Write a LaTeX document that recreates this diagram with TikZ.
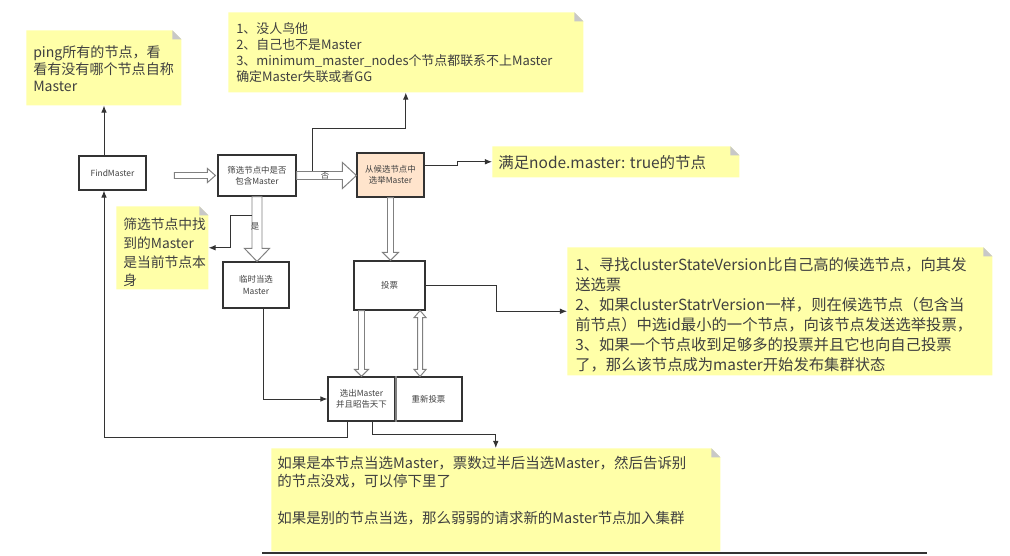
\documentclass[tikz,border=0pt]{standalone}
\usepackage{fontspec}
\setmainfont{Noto Sans CJK SC}
\usetikzlibrary{arrows.meta,calc}

\newcommand{\px}{0.025cm}
\definecolor{notebg}{RGB}{255,255,168}
\definecolor{notefold}{RGB}{200,200,200}
\definecolor{peach}{RGB}{255,228,204}
\definecolor{linegray}{RGB}{51,51,51}
\definecolor{textgray}{RGB}{64,64,64}

% hollow block arrows between two points
\newcommand{\hollowright}[5]{%
  \draw[hollow] let \p1=(#1), \p2=(#2) in
    (\x1,\y1+#3*\px) -- (\x2-#5*\px,\y1+#3*\px) -- (\x2-#5*\px,\y1+#4*\px) -- (\x2,\y1)
    -- (\x2-#5*\px,\y1-#4*\px) -- (\x2-#5*\px,\y1-#3*\px) -- (\x1,\y1-#3*\px) -- cycle;}
\newcommand{\hollowdown}[5]{%
  \draw[hollow] let \p1=(#1), \p2=(#2) in
    (\x1-#3*\px,\y1) -- (\x1-#3*\px,\y2+#5*\px) -- (\x1-#4*\px,\y2+#5*\px) -- (\x1,\y2)
    -- (\x1+#4*\px,\y2+#5*\px) -- (\x1+#3*\px,\y2+#5*\px) -- (\x1+#3*\px,\y1) -- cycle;}
\newcommand{\hollowboth}[5]{%
  \draw[hollow] let \p1=(#1), \p2=(#2) in
    (\x1,\y1) -- (\x1+#4*\px,\y1-#5*\px) -- (\x1+#3*\px,\y1-#5*\px) -- (\x1+#3*\px,\y2+#5*\px)
    -- (\x1+#4*\px,\y2+#5*\px) -- (\x1,\y2) -- (\x1-#4*\px,\y2+#5*\px) -- (\x1-#3*\px,\y2+#5*\px)
    -- (\x1-#3*\px,\y1-#5*\px) -- (\x1-#4*\px,\y1-#5*\px) -- cycle;}

\tikzset{
  box/.style={draw=linegray, fill=white, line width=0.8pt, align=center, text=textgray,
    font=\fontsize{6}{8}\selectfont, inner sep=0pt},
  conn/.style={draw=linegray, line width=0.7pt, -{Latex[length=5pt,width=4pt]}},
  hollow/.style={draw=gray, fill=white, line width=0.7pt},
  note/.style={anchor=north west, inner sep=0pt,
    path picture={
      \fill[notebg] (path picture bounding box.south west) -- (path picture bounding box.north west)
        -- ([xshift=-9*\px]path picture bounding box.north east)
        -- ([yshift=-9*\px]path picture bounding box.north east)
        -- (path picture bounding box.south east) -- cycle;
      \fill[notefold] ([xshift=-9*\px]path picture bounding box.north east)
        -- ([xshift=-9*\px,yshift=-9*\px]path picture bounding box.north east)
        -- ([yshift=-9*\px]path picture bounding box.north east) -- cycle;
    }},
  notetext/.style={anchor=north west, inner sep=0pt, align=left, text=textgray},
  tag/.style={inner sep=0pt, text=textgray, font=\fontsize{6}{7}\selectfont}
}

\begin{document}
\begin{tikzpicture}[x=\px, y=-\px]
    \useasboundingbox (0,0) rectangle (1010,556);

    % notes
    \node[note, minimum width=155*\px, minimum height=75*\px] (n1) at (26,30) {};
    \node[notetext, font=\fontsize{10}{12.1}\selectfont] (t1) at (33,45)
        {ping所有的节点，看\\看有没有哪个节点自称\\Master};
    \node[note, minimum width=355*\px, minimum height=80*\px] (n2) at (228,12) {};
    \node[notetext, font=\fontsize{9.2}{11.4}\selectfont] (t2) at (236,22.6)
        {1、没人鸟他\\2、自己也不是Master\\3、minimum\_master\_nodes个节点都联系不上Master\\确定Master失联或者GG};
    \node[note, minimum width=247*\px, minimum height=31*\px] (n3) at (492,146) {};
    \node[notetext, anchor=west, font=\fontsize{11}{13}\selectfont] (t3) at (498,163)
        {满足node.master: true的节点};
    \node[note, minimum width=92*\px, minimum height=83*\px] (n4) at (116,206) {};
    \node[notetext, font=\fontsize{9.8}{13.2}\selectfont] (t4) at (123,218)
        {筛选节点中找\\到的Master\\是当前节点本\\身};
    \node[note, minimum width=425*\px, minimum height=128*\px] (n5) at (567,247) {};
    \node[notetext, font=\fontsize{10.9}{14.2}\selectfont] (t5) at (575,257.3)
        {1、寻找clusterStateVersion比自己高的候选节点，向其发\\送选票\\2、如果clusterStatrVersion一样，则在候选节点（包含当\\前节点）中选id最小的一个节点，向该节点发送选举投票，\\3、如果一个节点收到足够多的投票并且它也向自己投票\\了，那么该节点成为master开始发布集群状态};
    \node[note, minimum width=449*\px, minimum height=103*\px] (n6) at (271,448) {};
    \node[notetext, font=\fontsize{10.3}{13.2}\selectfont] (t6) at (277,455.8)
        {如果是本节点当选Master，票数过半后当选Master，然后告诉别\\的节点没戏，可以停下里了\\[13pt]如果是别的节点当选，那么弱弱的请求新的Master节点加入集群};

    % boxes
    \node[box, minimum width=67*\px, minimum height=34*\px] (find) at (112.5,173) {FindMaster};
    \node[box, minimum width=78*\px, minimum height=41*\px] (filter) at (257,175.5) {筛选节点中是否\\包含Master};
    \node[box, fill=peach, minimum width=67*\px, minimum height=44*\px] (elect) at (390.5,175) {从候选节点中\\选举Master};
    \node[box, minimum width=66*\px, minimum height=46*\px] (temp) at (256,285) {临时当选\\Master};
    \node[box, minimum width=71*\px, minimum height=49*\px] (vote) at (389.5,285.5) {投票};
    \node[box, minimum width=67*\px, minimum height=44*\px] (chosen) at (361.5,399) {选出Master\\并且昭告天下};
    \node[box, minimum width=67*\px, minimum height=44*\px] (revote) at (428.5,399) {重新投票};
    \draw[gray, line width=1.4pt] (chosen.north east) -- (chosen.south east);

    % block arrows
    \hollowright{$(filter.west)+(-43,0)$}{$(filter.west)+(-2,0)$}{3}{7}{8}
    \hollowright{filter.east}{elect.west}{4}{13}{14}
    \hollowdown{filter.south}{filter.south |- temp.north}{5}{12.5}{13}
    \hollowdown{elect.south}{elect.south |- vote.north}{3}{8}{8}
    \hollowdown{vote.south -| chosen.north}{chosen.north}{3}{7}{7}
    \coordinate (v6) at ($(vote.south east)+(-5.5,0)$);
    \hollowboth{v6}{v6 |- revote.north}{2.5}{6}{7}
    \node[tag] (no) at (325,176) {否};
    \node[tag] (yes) at (255,226) {是};

    % connectors
    \draw[conn] ($(find.north)+(-8.5,0)$) coordinate (c1) -- (c1 |- n1.south);
    \coordinate (c2) at (312,171);
    \draw[conn] (c2) -- ++(0,-43) -| (n2.south);
    \draw[conn] ($(elect.east)+(0,-10)$) -- ++(33,0) |- (n3.west);
    \coordinate (c4) at (252,215);
    \draw[conn] (c4) -- ++(-22,0) |- (n4.east);
    \draw[conn] ($(temp.south)+(7,0)$) |- (chosen.west);
    \draw[conn] (vote.east) -- ++(71,0) |- (n5.west);
    \draw[conn] ($(chosen.south)+(-14.5,0)$) -- ++(0,16) -| ($(find.south)+(-8.5,0)$);
    \draw[conn] ($(chosen.south)+(10.5,0)$) -- ++(0,13) -| (n6.north);

    \draw[linegray, line width=1pt] (262,553) -- (927,553);
\end{tikzpicture}
\end{document}
